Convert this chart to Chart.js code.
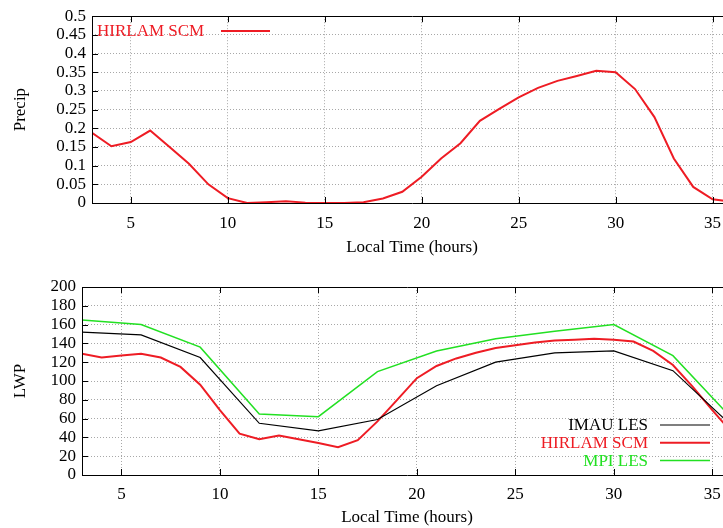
<!DOCTYPE html>
<html><head><meta charset="utf-8">
<script src="https://cdn.jsdelivr.net/npm/chart.js@4"></script>
<style>
html,body{margin:0;padding:0;background:#fff;overflow:hidden;width:723px;height:528px;}
#wrap{position:relative;width:723px;height:528px;overflow:hidden;}
canvas{position:absolute;left:0;}
</style></head><body>
<div id="wrap">
<canvas id="c1" width="740" height="260" style="top:0;width:740px;height:260px"></canvas>
<canvas id="c2" width="740" height="268" style="top:260px;width:740px;height:268px"></canvas>
</div>
<script>
// ---- data ----
const precipHours = [3,4,5,6,7,8,9,10,11,12,13,14,15,16,17,18,19,20,21,22,23,24,25,26,27,28,29,30,31,32,33,34,35,36];
const precipHirlam = [0.188,0.152,0.163,0.194,0.15,0.105,0.05,0.013,0.0,0.002,0.005,0.001,0.0,0.0,0.002,0.012,0.03,0.07,0.119,0.16,0.22,0.252,0.283,0.308,0.327,0.34,0.354,0.35,0.305,0.23,0.119,0.043,0.01,0.003];
const lesHours = [3,6,9,12,15,18,21,24,27,30,33,36];
const lwpImau = [152,149,125,55,47,59,95,120,130,132,111,52];
const lwpMpi = [165,160,136,65,62,110,132,145,153,160,127,60];
const lwpHirlam = [129,125,127,129,125,115,96,69,44,38,42,38,34,29.5,37,57,80,103,116,124,130,135,138,141,143,144,145,144,142,132,117,94,69,45];
const xTicks = [5,10,15,20,25,30,35];
const precipTicks = [0,0.05,0.1,0.15,0.2,0.25,0.3,0.35,0.4,0.45,0.5];
const lwpTicks = [0,20,40,60,80,100,120,140,160,180,200];

const RED = '#ee1c24', GREEN = '#22e022', BLACK = '#000000';
const FONT = {family:'"Liberation Serif", "DejaVu Serif", serif', size:17};

function pts(xs, ys){ return xs.map((x,i)=>({x:x, y:ys[i]})); }

const frame = {
  id:'frame',
  afterDraw(chart){
    const {ctx, chartArea:a, scales} = chart;
    ctx.save();
    ctx.strokeStyle = '#000'; ctx.lineWidth = 1;
    ctx.beginPath();
    scales.x.ticks.forEach(t=>{
      const px = Math.round(scales.x.getPixelForValue(t.value))+0.5;
      ctx.moveTo(px, a.bottom); ctx.lineTo(px, a.bottom-6);
      ctx.moveTo(px, a.top); ctx.lineTo(px, a.top+6);
    });
    scales.y.ticks.forEach(t=>{
      const py = Math.round(scales.y.getPixelForValue(t.value))+0.5;
      ctx.moveTo(a.left, py); ctx.lineTo(a.left+6, py);
    });
    ctx.stroke();
    ctx.beginPath();
    ctx.rect(Math.round(a.left)+0.5, Math.round(a.top)+0.5, Math.round(a.right-a.left), Math.round(a.bottom-a.top));
    ctx.stroke();
    const lg = chart.options.plugins.myLegend;
    ctx.font = FONT.size + 'px ' + FONT.family;
    ctx.textBaseline = 'middle';
    chart.data.datasets.forEach((ds,i)=>{
      const y = lg.y + i*lg.dy;
      ctx.fillStyle = ds.borderColor;
      ctx.textAlign = lg.align;
      ctx.fillText(ds.label, lg.x, y+1);
      ctx.strokeStyle = ds.borderColor; ctx.lineWidth = ds.borderWidth;
      ctx.beginPath(); ctx.moveTo(lg.lx1, y); ctx.lineTo(lg.lx2, y); ctx.stroke();
    });
    ctx.restore();
  }
};

function makeOpts(yMin, yMax, yTickVals, yTitle, yWidth, xHeight, padTop, legend, fmt, tickPad, xTitlePad){
  return {
    responsive:false, animation:false,
    layout:{padding:{top:padTop, right:8, left:0, bottom:0}},
    plugins:{legend:{display:false}, tooltip:{enabled:false}, myLegend:legend},
    elements:{point:{radius:0}, line:{tension:0}},
    scales:{
      x:{type:'linear', min:3, max:36,
         afterBuildTicks(s){ s.ticks = xTicks.map(v=>({value:v})); },
         afterFit(s){ s.height = xHeight; },
         border:{display:false, dash:[1,2]},
         grid:{color:'#a8a8a8', lineWidth:1, drawTicks:false},
         ticks:{color:'#000', font:FONT, padding:tickPad, maxRotation:0, autoSkip:false},
         title:{display:true, text:'Local Time (hours)', color:'#000', font:FONT, padding:{top:0,bottom:xTitlePad}}
      },
      y:{type:'linear', min:yMin, max:yMax,
         afterBuildTicks(s){ s.ticks = yTickVals.map(v=>({value:v})); },
         afterFit(s){ s.width = yWidth; },
         border:{display:false, dash:[1,2]},
         grid:{color:'#a8a8a8', lineWidth:1, drawTicks:false},
         ticks:{color:'#000', font:FONT, padding:6, callback:fmt, autoSkip:false},
         title:{display:true, text:yTitle, color:'#000', font:FONT, padding:{top:10,bottom:0}}
      }
    }
  };
}

const o1 = makeOpts(0,0.5,precipTicks,'Precip',92,57,15,
  {align:'left', x:97, y:31, dy:0, lx1:221, lx2:270}, v=>String(+(+v).toFixed(2)), 10, 2);
new Chart(document.getElementById('c1'), {
  type:'line',
  data:{datasets:[{label:'HIRLAM SCM', data:pts(precipHours, precipHirlam), borderColor:RED, borderWidth:2, fill:false}]},
  options:o1, plugins:[frame]
});

const o2 = makeOpts(0,200,lwpTicks,'LWP',82,53,27,
  {align:'right', x:648, y:425-260, dy:17.7, lx1:660, lx2:710}, v=>String(v), 9, 0);
new Chart(document.getElementById('c2'), {
  type:'line',
  data:{datasets:[
    {label:'IMAU LES', data:pts(lesHours, lwpImau), borderColor:BLACK, borderWidth:1.2, fill:false},
    {label:'HIRLAM SCM', data:pts(precipHours, lwpHirlam), borderColor:RED, borderWidth:2, fill:false},
    {label:'MPI LES', data:pts(lesHours, lwpMpi), borderColor:GREEN, borderWidth:1.5, fill:false}
  ]},
  options:o2, plugins:[frame]
});
</script>
</body></html>
